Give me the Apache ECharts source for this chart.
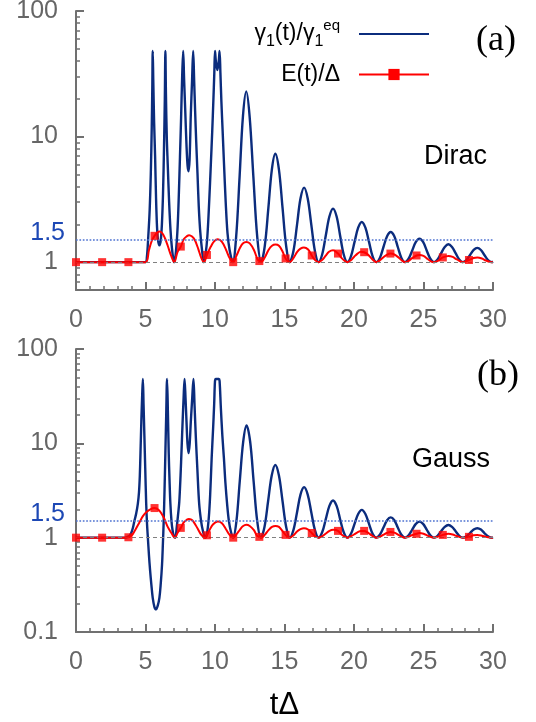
<!DOCTYPE html>
<html>
<head>
<meta charset="utf-8">
<script src="https://cdn.jsdelivr.net/npm/echarts@6/dist/echarts.min.js"></script>
<style>
  html, body { margin: 0; padding: 0; background: #fff; }
  #chart { width: 536px; height: 722px; }
</style>
</head>
<body>
<div id="chart"></div>
<script>
// ---------- Dirac quench: relaxation rate gamma1(t)/gamma1eq ----------
const timeGammaDirac = [
  0, 5.0, 5.1, 5.2, 5.3, 5.38, 5.45, 5.49, 5.52, 5.56, 5.62, 5.69, 5.76, 5.83, 5.9, 6.0, 6.1, 6.18, 6.26, 6.33, 6.39, 6.43, 6.47, 6.53, 6.6, 6.7, 6.8, 6.9, 7.0, 7.07,
  7.2, 7.31, 7.4, 7.48, 7.56, 7.63, 7.71, 7.78, 7.86, 7.95, 8.03, 8.1, 8.17, 8.26, 8.35, 8.43, 8.5, 8.57, 8.65, 8.74, 8.83, 8.93, 9.05, 9.2,
  9.32, 9.45, 9.58, 9.7, 9.8, 9.88, 9.95, 10.0, 10.06, 10.17, 10.27, 10.33, 10.39, 10.46, 10.55, 10.65, 10.77, 10.9, 11.05, 11.28,
  11.52, 11.77, 12.01, 12.25, 12.49, 12.76, 13.04, 13.32,
  13.58, 13.84, 14.09, 14.34, 14.6, 14.86, 15.12, 15.38,
  15.64, 15.9, 16.15, 16.41, 16.67, 16.93, 17.19, 17.45,
  17.71, 17.97, 18.23, 18.49, 18.75, 19.0, 19.26, 19.52,
  19.78, 20.04, 20.3, 20.56, 20.82, 21.08, 21.34, 21.6,
  21.86, 22.12, 22.38, 22.64, 22.9, 23.15, 23.41, 23.67,
  23.93, 24.19, 24.45, 24.71, 24.97, 25.23, 25.49, 25.75,
  26.01, 26.27, 26.53, 26.79, 27.05, 27.31, 27.57, 27.83,
  28.09, 28.35, 28.61, 28.87, 29.13, 29.38, 29.64, 29.9, 30
];
const gammaDirac = [
  1, 1, 1.1, 1.6, 2.6, 5, 12, 25, 48, 28, 13, 7, 3.2, 1.9, 1.5, 1.36, 1.5, 2.0, 3.5, 8, 20, 48, 22, 10, 6, 3, 1.8, 1.3, 1.06, 1.0,
  1.25, 1.9, 3.5, 6.9, 14, 28, 48, 28, 16, 8.5, 5.8, 5.3, 6.5, 15, 28, 48, 28, 16, 9, 5.1, 2.8, 1.8, 1.3, 1.0,
  1.15, 1.6, 3.0, 6, 11, 19, 32, 48, 40, 33.8, 40, 48, 32, 19, 11, 6, 3.0, 1.7, 1.25, 1.0,
  1.58, 4.8, 14.5, 22.9, 14.5, 4.8, 1.58, 1.0,
  1.34, 2.7, 5.46, 7.3, 5.46, 2.7, 1.34, 1.0,
  1.22, 1.98, 3.21, 3.92, 3.21, 1.98, 1.22, 1.0,
  1.15, 1.63, 2.31, 2.67, 2.31, 1.63, 1.15, 1.0,
  1.11, 1.45, 1.88, 2.09, 1.88, 1.45, 1.11, 1.0,
  1.08, 1.32, 1.61, 1.74, 1.61, 1.32, 1.08, 1.0,
  1.065, 1.24, 1.45, 1.54, 1.45, 1.24, 1.065, 1.0,
  1.05, 1.18, 1.32, 1.39, 1.32, 1.18, 1.05, 1.0,
  1.04, 1.14, 1.25, 1.3, 1.25, 1.14, 1.04, 1.0, 1.01
];

// ---------- Dirac quench: energy E(t)/Delta ----------
const timeEnergyDirac = [
  0, 5.0, 5.25, 5.45, 5.85, 6.0, 6.2, 6.4, 6.6, 6.85, 7.07,
  7.3, 7.75, 7.95, 8.14, 8.35, 8.55, 8.8, 9.0, 9.2,
  9.7, 9.95, 10.2, 10.5, 10.8, 11.05,
  11.55, 11.8, 12.0, 12.25, 12.5, 12.8, 13.05, 13.32,
  13.6, 13.85, 14.1, 14.35, 14.6, 14.85, 15.38,
  15.65, 15.9, 16.15, 16.4, 16.7, 17.2, 17.45,
  17.7, 17.95, 18.2, 18.5, 19.1, 19.3, 19.52,
  19.75, 20.0, 20.25, 20.5, 21.0, 21.3, 21.6,
  21.85, 22.1, 22.35, 22.9, 23.2, 23.45, 23.67,
  23.9, 24.15, 24.7, 25.0, 25.3, 25.5, 25.75,
  26.0, 26.8, 27.1, 27.4, 27.83,
  28.6, 28.87, 29.2, 29.5, 29.9, 30
];
const energyDirac = [
  1, 1.0, 1.25, 1.48, 1.72, 1.75, 1.7, 1.55, 1.35, 1.12, 1.0,
  1.2, 1.52, 1.6, 1.64, 1.6, 1.5, 1.27, 1.09, 1.0,
  1.33, 1.47, 1.52, 1.45, 1.25, 1.08,
  1.13, 1.3, 1.41, 1.45, 1.41, 1.25, 1.06, 1.0,
  1.1, 1.25, 1.35, 1.38, 1.35, 1.22, 1.0,
  1.08, 1.2, 1.28, 1.31, 1.26, 1.04, 1.0,
  1.04, 1.12, 1.21, 1.245, 1.08, 1.03, 1.0,
  1.03, 1.1, 1.17, 1.21, 1.15, 1.06, 1.0,
  1.03, 1.09, 1.14, 1.15, 1.09, 1.03, 1.0,
  1.02, 1.07, 1.14, 1.12, 1.06, 1.02, 1.0,
  1.02, 1.12, 1.1, 1.05, 1.0,
  1.08, 1.09, 1.07, 1.03, 1.0, 1.0
];

// sampled points drawn as square markers on the energy curve
const markerTimes = [0, 1.88, 3.77, 5.65, 7.54, 9.42, 11.31, 13.19, 15.08, 16.96, 18.85, 20.73, 22.62, 24.5, 26.39, 28.27];
const markerEnergyDirac = [1, 1, 1, 1.62, 1.33, 1.14, 1.0, 1.02, 1.07, 1.13, 1.17, 1.2, 1.17, 1.13, 1.09, 1.04];

// ---------- Gauss quench: relaxation rate ----------
const timeGammaGauss = [
  0, 3.5, 3.7, 3.86, 4.0, 4.1, 4.2, 4.33, 4.45, 4.53, 4.59, 4.64, 4.7, 4.76, 4.81, 4.86, 4.92, 4.98, 5.05, 5.11, 5.17,
  5.25, 5.33, 5.42, 5.52, 5.64, 5.76, 5.88, 6.0, 6.1, 6.19, 6.25, 6.31, 6.37, 6.43, 6.49, 6.55, 6.61, 6.67, 6.73, 6.79, 6.87, 6.95, 7.05, 7.14,
  7.25, 7.35, 7.43, 7.52, 7.6, 7.67, 7.74, 7.81, 7.88, 7.95, 8.02, 8.1, 8.18, 8.26, 8.36, 8.45, 8.53, 8.62, 8.74, 8.86, 9.0, 9.12, 9.3,
  9.42, 9.55, 9.65, 9.76, 9.86, 9.94, 10.0, 10.05, 10.17, 10.28, 10.33, 10.42, 10.53, 10.64, 10.75, 10.88, 11.0, 11.15, 11.3,
  11.54, 11.78, 12.03, 12.27, 12.53, 12.78, 13.04, 13.3,
  13.56, 13.82, 14.08, 14.34, 14.6, 14.86, 15.12, 15.38,
  15.64, 15.9, 16.15, 16.41, 16.67, 16.93, 17.19, 17.45,
  17.71, 17.97, 18.23, 18.49, 18.75, 19.0, 19.26, 19.52,
  19.78, 20.04, 20.3, 20.56, 20.82, 21.08, 21.34, 21.6,
  21.86, 22.12, 22.38, 22.64, 22.9, 23.15, 23.41, 23.67,
  23.93, 24.19, 24.45, 24.71, 24.97, 25.23, 25.49, 25.75,
  26.01, 26.27, 26.53, 26.79, 27.05, 27.31, 27.57, 27.83,
  28.09, 28.35, 28.61, 28.87, 29.13, 29.38, 29.64, 29.9, 30
];
const gammaGauss = [
  1, 1.0, 1.02, 1.05, 1.15, 1.28, 1.5, 1.8, 2.3, 3.0, 4.5, 8, 17, 32, 48, 26, 12, 5.5, 2.3, 1.4, 1.0,
  0.65, 0.45, 0.32, 0.23, 0.185, 0.174, 0.19, 0.23, 0.33, 0.52, 0.85, 1.5, 3.2, 8, 20, 48, 22, 8, 4.0, 2.3, 1.5, 1.19, 1.03, 1.0,
  1.3, 1.8, 2.4, 4.5, 9, 17, 30, 48, 30, 17, 10, 7.9, 10, 17, 30, 48, 25, 11.7, 5, 2.3, 1.5, 1.2, 1.0,
  1.1, 1.6, 2.8, 7, 14, 26, 46, 48, 48, 48, 46, 24, 12, 7, 3.8, 2.2, 1.5, 1.15, 1.0,
  1.49, 3.94, 10.4, 15.5, 10.4, 3.94, 1.49, 1.0,
  1.3, 2.43, 4.55, 5.9, 4.55, 2.43, 1.3, 1.0,
  1.2, 1.85, 2.86, 3.43, 2.86, 1.85, 1.2, 1.0,
  1.14, 1.57, 2.17, 2.48, 2.17, 1.57, 1.14, 1.0,
  1.1, 1.4, 1.78, 1.97, 1.78, 1.4, 1.1, 1.0,
  1.075, 1.28, 1.53, 1.64, 1.53, 1.28, 1.075, 1.0,
  1.06, 1.22, 1.4, 1.48, 1.4, 1.22, 1.06, 1.0,
  1.046, 1.17, 1.3, 1.36, 1.3, 1.17, 1.046, 1.0,
  1.034, 1.12, 1.22, 1.26, 1.22, 1.12, 1.034, 1.0, 1.01
];

// ---------- Gauss quench: energy ----------
const timeEnergyGauss = [
  0, 3.5, 4.0, 4.25, 4.57, 4.8, 5.05, 5.35, 5.95, 6.2, 6.36, 6.6, 6.83, 7.0, 7.12,
  7.3, 7.75, 7.95, 8.12, 8.3, 8.45, 8.75, 9.0, 9.3,
  9.6, 9.85, 10.2, 10.5, 10.8, 11.05,
  11.55, 11.8, 12.0, 12.25, 12.5, 12.8, 13.0, 13.32,
  13.6, 13.85, 14.1, 14.35, 14.6, 14.85, 15.38,
  15.65, 15.9, 16.15, 16.4, 16.7, 17.2, 17.45,
  17.7, 17.95, 18.2, 18.5, 19.1, 19.3, 19.52,
  19.75, 20.0, 20.25, 20.5, 21.0, 21.3, 21.6,
  21.85, 22.1, 22.35, 22.9, 23.2, 23.45, 23.67,
  23.9, 24.15, 24.7, 25.0, 25.3, 25.5, 25.75,
  26.0, 26.8, 27.1, 27.4, 27.83,
  28.6, 28.87, 29.2, 29.5, 29.9, 30
];
const energyGauss = [
  1, 1.0, 1.05, 1.2, 1.46, 1.68, 1.86, 2.0, 1.97, 1.75, 1.58, 1.3, 1.14, 1.04, 1.0,
  1.12, 1.45, 1.54, 1.58, 1.55, 1.48, 1.25, 1.08, 1.0,
  1.2, 1.38, 1.48, 1.42, 1.22, 1.07,
  1.09, 1.22, 1.32, 1.37, 1.33, 1.2, 1.06, 1.0,
  1.08, 1.2, 1.3, 1.33, 1.3, 1.18, 1.0,
  1.06, 1.16, 1.23, 1.26, 1.22, 1.04, 1.0,
  1.03, 1.1, 1.17, 1.21, 1.08, 1.03, 1.0,
  1.03, 1.08, 1.14, 1.18, 1.13, 1.05, 1.0,
  1.02, 1.07, 1.12, 1.13, 1.07, 1.02, 1.0,
  1.02, 1.06, 1.12, 1.1, 1.05, 1.02, 1.0,
  1.02, 1.1, 1.08, 1.04, 1.0,
  1.06, 1.07, 1.05, 1.02, 1.0, 1.0
];
const markerEnergyGauss = [1, 1, 1.01, 2.06, 1.27, 1.06, 1.0, 1.02, 1.07, 1.12, 1.18, 1.18, 1.15, 1.1, 1.07, 1.02];

// ---------- axis ticks and reference levels ----------
const xTickStep = 5;
const yMajorDirac = [1, 10, 100];
const yMinorDirac = [0.7, 0.8, 0.9, 2, 3, 4, 5, 6, 7, 8, 9, 20, 30, 40, 50, 60, 70, 80, 90];
const yMajorGauss = [0.1, 1, 10, 100];
const yMinorGauss = [0.2, 0.3, 0.4, 0.5, 0.6, 0.7, 0.8, 0.9, 2, 3, 4, 5, 6, 7, 8, 9, 20, 30, 40, 50, 60, 70, 80, 90];
const resonanceLevel = 1.5;
const equilibriumLevel = 1;

const NAME_GAMMA = 'γ1(t)/γ1eq';
const NAME_ENERGY = 'E(t)/Δ';

// ---------- helpers ----------
const pairs = (ts, vs) => ts.map((t, i) => [t, vs[i]]);
// energy curve passes through the sampled marker points as well
function energyCurve(ts, vs, mts, mvs) {
  const all = pairs(ts, vs).concat(pairs(mts, mvs));
  all.sort((a, b) => a[0] - b[0]);
  return all.filter((p, i) => i === 0 || Math.abs(p[0] - all[i - 1][0]) > 1e-9);
}

const GRAY = '#707070';
const LABEL_GRAY = '#666666';
const NAVY = '#0b2c7d';
const RED = '#ff0000';
const FONT = '"Liberation Sans", Arial, Helvetica, sans-serif';
const SERIF = '"Liberation Serif", "DejaVu Serif", serif';

function xAxisFor(gridIndex, extra) {
  return Object.assign({
    type: 'value', gridIndex, min: 0, max: 30, interval: xTickStep,
    axisLine: { show: true, onZero: false, lineStyle: { color: GRAY, width: 2 } },
    axisTick: { show: true, inside: true, length: 8, lineStyle: { color: GRAY, width: 2 } },
    minorTick: { show: true, splitNumber: 5, length: 4, lineStyle: { color: GRAY, width: 1.5 } },
    axisLabel: { color: LABEL_GRAY, fontSize: 25, margin: 18, fontFamily: FONT },
    splitLine: { show: false }
  }, extra || {});
}

function yAxesFor(gridIndex, min, major, minor) {
  return [
    {
      type: 'log', logBase: 10, gridIndex, min, max: 100, position: 'left',
      axisLine: { show: true, lineStyle: { color: GRAY, width: 2 } },
      axisTick: { show: true, inside: true, length: 8, customValues: major, lineStyle: { color: GRAY, width: 2 } },
      axisLabel: { color: LABEL_GRAY, fontSize: 25, margin: 18, fontFamily: FONT, customValues: major },
      splitLine: { show: false }
    },
    {
      type: 'log', logBase: 10, gridIndex, min, max: 100, position: 'left', offset: 0,
      axisLine: { show: false },
      axisTick: { show: true, inside: true, length: 4, customValues: minor, lineStyle: { color: GRAY, width: 1.5 } },
      axisLabel: { show: false },
      splitLine: { show: false }
    }
  ];
}

function referenceLines() {
  return {
    silent: true,
    symbol: ['none', 'none'],
    animation: false,
    data: [
      {
        yAxis: resonanceLevel,
        lineStyle: { color: '#4f73d1', type: 'dotted', width: 1.7 },
        label: {
          show: true, position: 'start', formatter: String(resonanceLevel),
          color: '#1d48b5', fontSize: 25, fontFamily: FONT, distance: 11, offset: [0, -7]
        }
      },
      {
        yAxis: equilibriumLevel,
        lineStyle: { color: '#808080', type: [4, 3], width: 1.2 },
        label: { show: false }
      }
    ]
  };
}

function panelSeries(gi, yi, tg, g, te, e, me) {
  return [
    {
      name: NAME_GAMMA, type: 'line', xAxisIndex: gi, yAxisIndex: yi,
      data: pairs(tg, g), smooth: 0.35, symbol: 'none', showSymbol: false,
      lineStyle: { color: NAVY, width: 2.4 }, itemStyle: { color: NAVY },
      markLine: referenceLines(), z: 3
    },
    {
      name: NAME_ENERGY, type: 'line', xAxisIndex: gi, yAxisIndex: yi,
      data: energyCurve(te, e, markerTimes, me), smooth: 0.35,
      symbol: 'rect', symbolSize: 8, showSymbol: false,
      lineStyle: { color: RED, width: 2 }, itemStyle: { color: RED }, z: 4
    },
    {
      name: NAME_ENERGY, type: 'scatter', xAxisIndex: gi, yAxisIndex: yi,
      data: pairs(markerTimes, me), symbol: 'rect', symbolSize: 8,
      itemStyle: { color: RED }, z: 5
    }
  ];
}

const chart = echarts.init(document.getElementById('chart'), null, { renderer: 'canvas' });

const option = {
  animation: false,
  backgroundColor: '#ffffff',
  textStyle: { fontFamily: FONT },
  grid: [
    { left: 76, right: 43, top: 11, bottom: 432, containLabel: false, outerBoundsMode: 'none' },
    { left: 76, right: 43, top: 349, bottom: 90, containLabel: false, outerBoundsMode: 'none' }
  ],
  xAxis: [
    xAxisFor(0),
    xAxisFor(1, {
      name: 'tΔ', nameLocation: 'middle', nameGap: 58,
      nameTextStyle: { color: '#000', fontSize: 31, fontFamily: FONT }
    })
  ],
  yAxis: yAxesFor(0, 0.6, yMajorDirac, yMinorDirac).concat(yAxesFor(1, 0.1, yMajorGauss, yMinorGauss)),
  legend: {
    data: [{ name: NAME_GAMMA, itemStyle: { opacity: 0 } }, { name: NAME_ENERGY }],
    orient: 'vertical', right: 101, top: 13,
    align: 'right', itemWidth: 70, itemHeight: 14, itemGap: 13,
    selectedMode: false,
    formatter: name => name === NAME_GAMMA
      ? '{m|γ}{s|1}{m|(t)/γ}{s|1}{p|eq}'
      : '{m|E(t)/Δ}',
    textStyle: {
      padding: [0, 14, 0, 0],
      rich: {
        m: { fontSize: 23, color: '#000', fontFamily: FONT, lineHeight: 26 },
        s: { fontSize: 16, color: '#000', fontFamily: FONT, verticalAlign: 'bottom', lineHeight: 16, padding: [0, 0, -3, 0] },
        p: { fontSize: 15, color: '#000', fontFamily: FONT, verticalAlign: 'top', lineHeight: 15, padding: [-3, 0, 0, 0] }
      }
    }
  },
  title: [
    { text: 'Dirac', left: 424, top: 143, padding: 0, textStyle: { fontSize: 27, fontWeight: 'normal', color: '#000', fontFamily: FONT } },
    { text: 'Gauss', left: 412, top: 446, padding: 0, textStyle: { fontSize: 27, fontWeight: 'normal', color: '#000', fontFamily: FONT } },
    { text: '(a)', left: 476, top: 23, padding: 0, textStyle: { fontSize: 36, fontWeight: 'normal', color: '#000', fontFamily: SERIF } },
    { text: '(b)', left: 477, top: 358, padding: 0, textStyle: { fontSize: 36, fontWeight: 'normal', color: '#000', fontFamily: SERIF } }
  ],
  series: panelSeries(0, 0, timeGammaDirac, gammaDirac, timeEnergyDirac, energyDirac, markerEnergyDirac)
    .concat(panelSeries(1, 2, timeGammaGauss, gammaGauss, timeEnergyGauss, energyGauss, markerEnergyGauss))
};

chart.setOption(option);
</script>
</body>
</html>
